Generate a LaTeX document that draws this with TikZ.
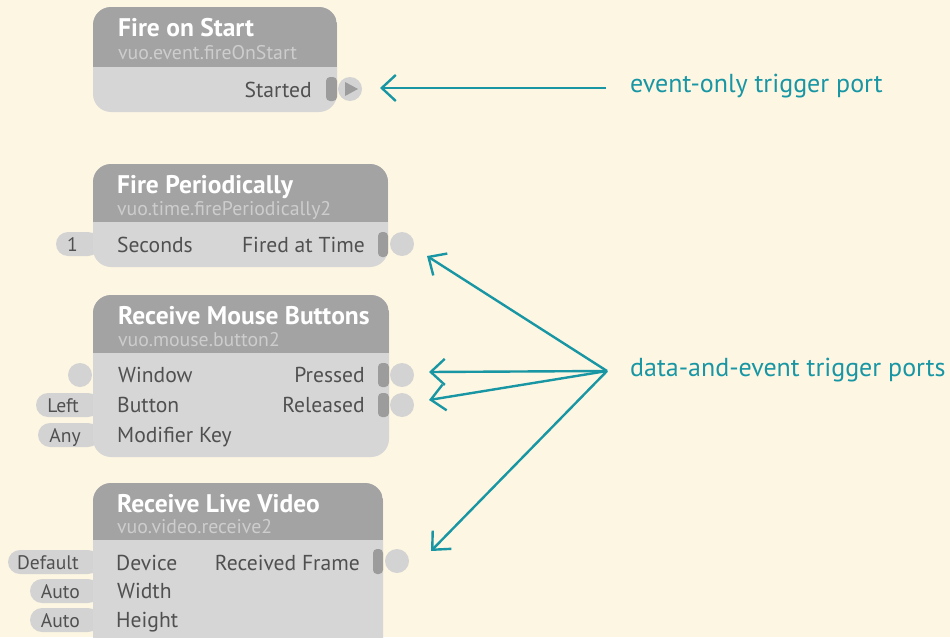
\documentclass[tikz,border=0pt]{standalone}
\usepackage{fontspec}
\setmainfont{PT Sans}
\usetikzlibrary{arrows.meta}
\definecolor{bgc}{HTML}{FDF6E3}
\definecolor{hdr}{HTML}{A3A3A3}
\definecolor{bodyc}{HTML}{D6D6D6}
\definecolor{barc}{HTML}{9C9C9C}
\definecolor{portc}{HTML}{D3D3D3}
\definecolor{txtc}{HTML}{505050}
\definecolor{subc}{HTML}{CDCDCD}
\definecolor{teal}{HTML}{1896A4}
\tikzset{
  title/.style={anchor=base west, inner sep=0pt, text=white, font=\fontsize{25.5}{30}\selectfont\bfseries},
  subtitle/.style={anchor=base west, inner sep=0pt, text=subc, font=\fontsize{19.8}{23}\selectfont},
  plabel/.style={anchor=base west, inner sep=0pt, text=txtc, font=\fontsize{21.6}{26}\selectfont},
  rlabel/.style={anchor=base east, inner sep=0pt, text=txtc, font=\fontsize{21.6}{26}\selectfont},
  ctext/.style={anchor=base east, inner sep=0pt, text=txtc, font=\fontsize{19.6}{23}\selectfont},
  outport/.style={circle, fill=portc, minimum size=24pt, inner sep=0pt},
  bar/.style={fill=barc, rounded corners=4pt},
  pill/.style={fill=portc, rounded corners=12pt},
  note/.style={anchor=west, inner sep=0pt, text=teal, font=\fontsize{26}{30}\selectfont},
  pointer/.style={draw=teal, line width=2.4pt, -{Straight Barb[length=14pt, width=26pt, line width=2.4pt]}},
}
\begin{document}
\begin{tikzpicture}[x=1pt, y=-1pt]
\fill[bgc] (0,0) rectangle (950,637);
\clip (0,0) rectangle (950,637);

% ---------- Fire on Start ----------
\begin{scope}
\fill[bodyc, rounded corners=18pt] (93,7) rectangle (337,112);
\clip[rounded corners=18pt] (93,7) rectangle (337,112);
\fill[hdr] (93,7) rectangle (337,67);
\end{scope}
\node[title] (t1) at (118,36) {Fire on Start};
\node[subtitle] (s1) at (118,59) {vuo.event.fireOnStart};
\node[rlabel] (l1) at (312,97) {Started};
\fill[bar] (326,77) rectangle (337,101);
\node[outport] (p1) at (350,89) {};
\fill[barc] (345,82) -- (358,89) -- (345,96) -- cycle;

% ---------- Fire Periodically ----------
\fill[pill] (56,232) rectangle (100,256);
\node[ctext] (c21) at (78,251) {1};
\begin{scope}
\fill[bodyc, rounded corners=18pt] (93,164) rectangle (388,267);
\clip[rounded corners=18pt] (93,164) rectangle (388,267);
\fill[hdr] (93,164) rectangle (388,222);
\end{scope}
\node[title] (t2) at (117,193) {Fire Periodically};
\node[subtitle] (s2) at (117,215) {vuo.time.firePeriodically2};
\node[plabel] (l21) at (117,252) {Seconds};
\node[rlabel] (l22) at (365,252) {Fired at Time};
\fill[bar] (378,232) rectangle (388,257);
\node[outport] (p2) at (402,244) {};

% ---------- Receive Mouse Buttons ----------
\node[outport] (w3) at (80,375) {};
\fill[pill] (36,393) rectangle (100,417);
\fill[pill] (38,423) rectangle (100,447);
\node[ctext] (c32) at (79,412) {Left};
\node[ctext] (c33) at (81,442) {Any};
\begin{scope}
\fill[bodyc, rounded corners=18pt] (93,295) rectangle (389,457);
\clip[rounded corners=18pt] (93,295) rectangle (389,457);
\fill[hdr] (93,295) rectangle (389,353);
\end{scope}
\node[title] (t3) at (118,324) {Receive Mouse Buttons};
\node[subtitle] (s3) at (118,346) {vuo.mouse.button2};
\node[plabel] (l31) at (118,382) {Window};
\node[plabel] (l32) at (117,412) {Button};
\node[plabel] (l33) at (117,442) {Modifier Key};
\node[rlabel] (l34) at (365,382) {Pressed};
\node[rlabel] (l35) at (365,412) {Released};
\fill[bar] (378,363) rectangle (389,387);
\fill[bar] (378,393) rectangle (389,417);
\node[outport] (p31) at (402,375) {};
\node[outport] (p32) at (402,405) {};

% ---------- Receive Live Video ----------
\fill[pill] (8,550) rectangle (100,574);
\fill[pill] (30,579) rectangle (100,603);
\fill[pill] (30,608) rectangle (100,632);
\node[ctext] (c41) at (79,569) {Default};
\node[ctext] (c42) at (80,598) {Auto};
\node[ctext] (c43) at (80,627) {Auto};
\begin{scope}
\fill[bodyc, rounded corners=18pt] (93,483) rectangle (383,660);
\clip[rounded corners=18pt] (93,483) rectangle (383,660);
\fill[hdr] (93,483) rectangle (383,540);
\end{scope}
\node[title] (t4) at (117,512) {Receive Live Video};
\node[subtitle] (s4) at (117,533) {vuo.video.receive2};
\node[plabel] (l41) at (116,570) {Device};
\node[plabel] (l42) at (117,598) {Width};
\node[plabel] (l43) at (116,627) {Height};
\node[rlabel] (l44) at (360,570) {Received Frame};
\fill[bar] (373,549) rectangle (383,574);
\node[outport] (p4) at (397,561) {};

% ---------- annotations ----------
\node[note] (n1) at (630,86) {event-only trigger port};
\node[note] (n2) at (630,370) {data-and-event trigger ports};
\coordinate (h1) at (606,88);
\coordinate (h2) at (607,371);
\coordinate (a1) at (380,88);
\coordinate (a2) at (427,256);
\coordinate (a3) at (429,372);
\coordinate (a4) at (429,400);
\coordinate (a5) at (431,551);
\draw[pointer] (h1) -- (a1);
\draw[pointer] (h2) -- (a2);
\draw[pointer] (h2) -- (a3);
\draw[pointer] (h2) -- (a4);
\draw[pointer] (h2) -- (a5);
\end{tikzpicture}
\end{document}
